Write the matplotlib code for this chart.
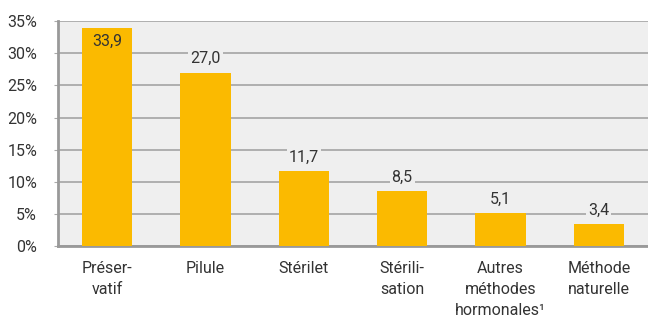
import matplotlib
matplotlib.use("Agg")
import matplotlib.pyplot as plt

plt.rcParams['font.family'] = ['Roboto', 'DejaVu Sans']

categories = ["Préser-\nvatif", "Pilule", "Stérilet", "Stérili-\nsation",
              "Autres\nméthodes\nhormonales¹", "Méthode\nnaturelle"]
values = [33.9, 27.0, 11.7, 8.5, 5.1, 3.4]
yticks = [0, 5, 10, 15, 20, 25, 30, 35]

fig = plt.figure(figsize=(6.48, 3.2), dpi=100)
ax = fig.add_axes([0.0895, 0.231, 0.9105, 0.703])
ax.set_facecolor("#efefef")

x = range(len(values))
ax.bar(x, values, width=0.51, color="#fbba00", zorder=3)

for xi, v in zip(x, values):
    label = f"{v:.1f}".replace(".", ",")
    if v > 32:
        ax.text(xi, v - 0.9, label, ha="center", va="top", fontsize=11.5,
                color="#333333", zorder=4)
    else:
        ax.text(xi, v + 1.0, label, ha="center", va="bottom", fontsize=11.5,
                color="#333333", zorder=4,
                bbox=dict(facecolor="#efefef", edgecolor="none", pad=1.5))

ax.set_xlim(-0.5, 5.5)
ax.set_ylim(0, 35)
ax.set_yticks(yticks)
ax.set_yticklabels([f"{t}%" for t in yticks], fontsize=11.5, color="#333333")
ax.set_xticks(list(x))
ax.set_xticklabels(categories, fontsize=11.5, color="#333333", linespacing=1.5)
ax.tick_params(axis="x", length=0, pad=11)
ax.tick_params(axis="y", length=3, color="#aaaaaa", pad=12)
ax.grid(axis="y", color="#aaaaaa", linewidth=1.3, zorder=1)
ax.set_axisbelow(True)

for s in ["top", "right"]:
    ax.spines[s].set_visible(False)
for s in ["left", "bottom"]:
    ax.spines[s].set_color("#999999")
    ax.spines[s].set_linewidth(2)

fig.savefig("out.png", dpi=100)
